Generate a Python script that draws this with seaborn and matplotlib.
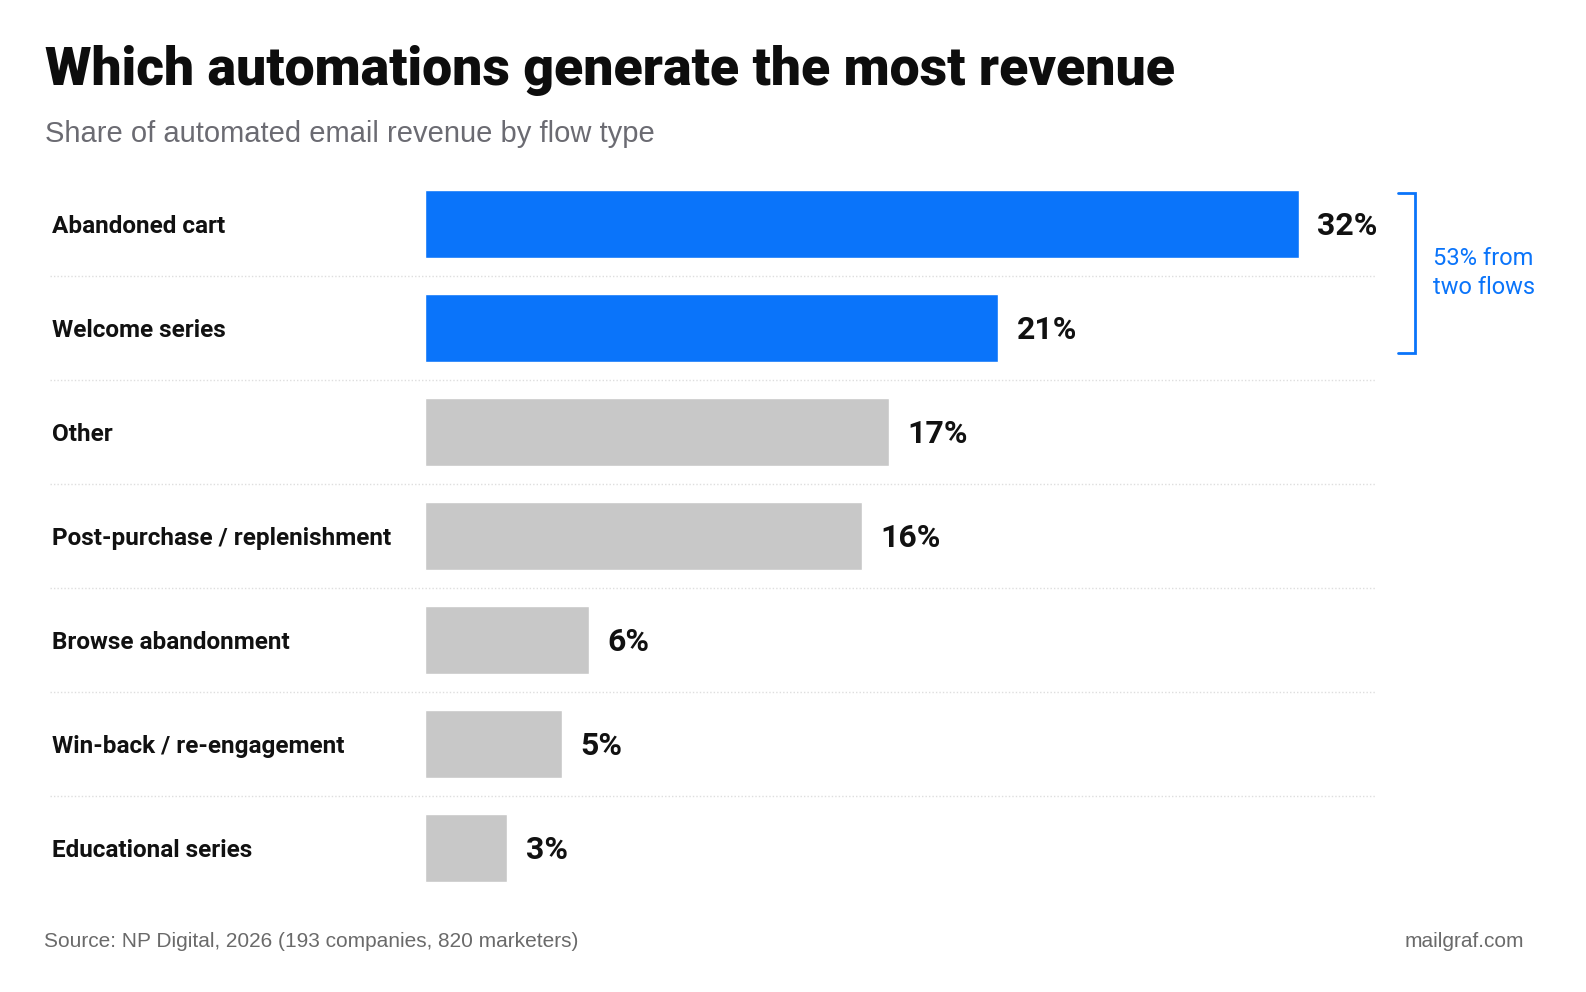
import matplotlib
matplotlib.use("Agg")
import matplotlib.pyplot as plt
import seaborn as sns

# Data
categories = ["Abandoned cart", "Welcome series", "Other", "Post-purchase / replenishment",
              "Browse abandonment", "Win-back / re-engagement", "Educational series"]
shares = [32, 21, 17, 16, 6, 5, 3]
highlight = [True, True, False, False, False, False, False]

BLUE = "#0A74FA"
GREY = "#C8C8C8"
BOLD = ["Roboto", "Liberation Sans", "DejaVu Sans"]
SANS = ["Liberation Sans", "DejaVu Sans"]

sns.set_theme(style="white")
plt.rcParams["font.family"] = SANS

W, H = 1586, 992
fig = plt.figure(figsize=(W / 100, H / 100), dpi=100, facecolor="white")

# axes: bars start at x=425px, 27.3 px per percent, rows 104px apart
px_per_pct = 27.3
xmax = 35
ax = fig.add_axes([425 / W, (H - 900) / H, xmax * px_per_pct / W, 728 / H])
ax.set_facecolor("white")

palette = {c: (BLUE if h else GREY) for c, h in zip(categories, highlight)}
sns.barplot(x=shares, y=categories, hue=categories, palette=palette, legend=False,
            orient="h", width=0.65, saturation=1, ax=ax)

ax.set_xlim(0, xmax)
ax.set_ylim(len(categories) - 0.5, -0.5)
ax.set_xticks([])
ax.set_yticks([])
ax.set_xlabel("")
ax.set_ylabel("")
for s in ax.spines.values():
    s.set_visible(False)

ytrans = ax.get_yaxis_transform()
label_x = (52 - 425) / (xmax * px_per_pct)
sep_x0 = (50 - 425) / (xmax * px_per_pct)
sep_x1 = (1376 - 425) / (xmax * px_per_pct)

for i, (cat, val) in enumerate(zip(categories, shares)):
    ax.annotate(cat, xy=(label_x, i), xycoords=ytrans, xytext=(0, -1.5),
                textcoords="offset points", ha="left", va="center",
                fontsize=17.5, fontweight="bold", family=BOLD, color="#111111")
    ax.annotate(f"{val}%", xy=(val, i), xytext=(13.5, -1.5), textcoords="offset points",
                ha="left", va="center", fontsize=23, fontweight="bold",
                family=BOLD, color="#111111")
    if i < len(categories) - 1:
        ax.plot([sep_x0, sep_x1], [i + 0.5, i + 0.5], transform=ytrans, clip_on=False,
                color="#dedede", lw=1, ls=(0, (1, 1.5)))

# bracket for the two highlighted flows
top_two = sum(v for v, h in zip(shares, highlight) if h)
bx = max(shares) + (1415 - 1299) / px_per_pct
tick = 17 / px_per_pct
y0, y1 = -0.30, 1.24
ax.plot([bx - tick, bx, bx, bx - tick], [y0, y0, y1, y1], color=BLUE, lw=2,
        clip_on=False, solid_joinstyle="miter")
ax.text(bx + 18 / px_per_pct, (y0 + y1) / 2, f"{top_two}% from\ntwo flows",
        ha="left", va="center", fontsize=17, color=BLUE, linespacing=1.3,
        family=["Roboto", "Liberation Sans"])

# titles and footer
fig.text(45 / W, 1 - 85 / H, "Which automations generate the most revenue",
         ha="left", va="baseline", fontsize=38.5, fontweight="heavy", family=BOLD,
         color="#0d0d0d")
fig.text(45 / W, 1 - 142 / H, "Share of automated email revenue by flow type",
         ha="left", va="baseline", fontsize=21, color="#6b6b72")
fig.text(44 / W, 1 - 947 / H, "Source: NP Digital, 2026 (193 companies, 820 marketers)",
         ha="left", va="baseline", fontsize=15, color="#6a6a6a")
fig.text(1524 / W, 1 - 947 / H, "mailgraf.com", ha="right", va="baseline",
         fontsize=15, color="#6a6a6a")

fig.savefig("out.png", dpi=100, facecolor="white")
